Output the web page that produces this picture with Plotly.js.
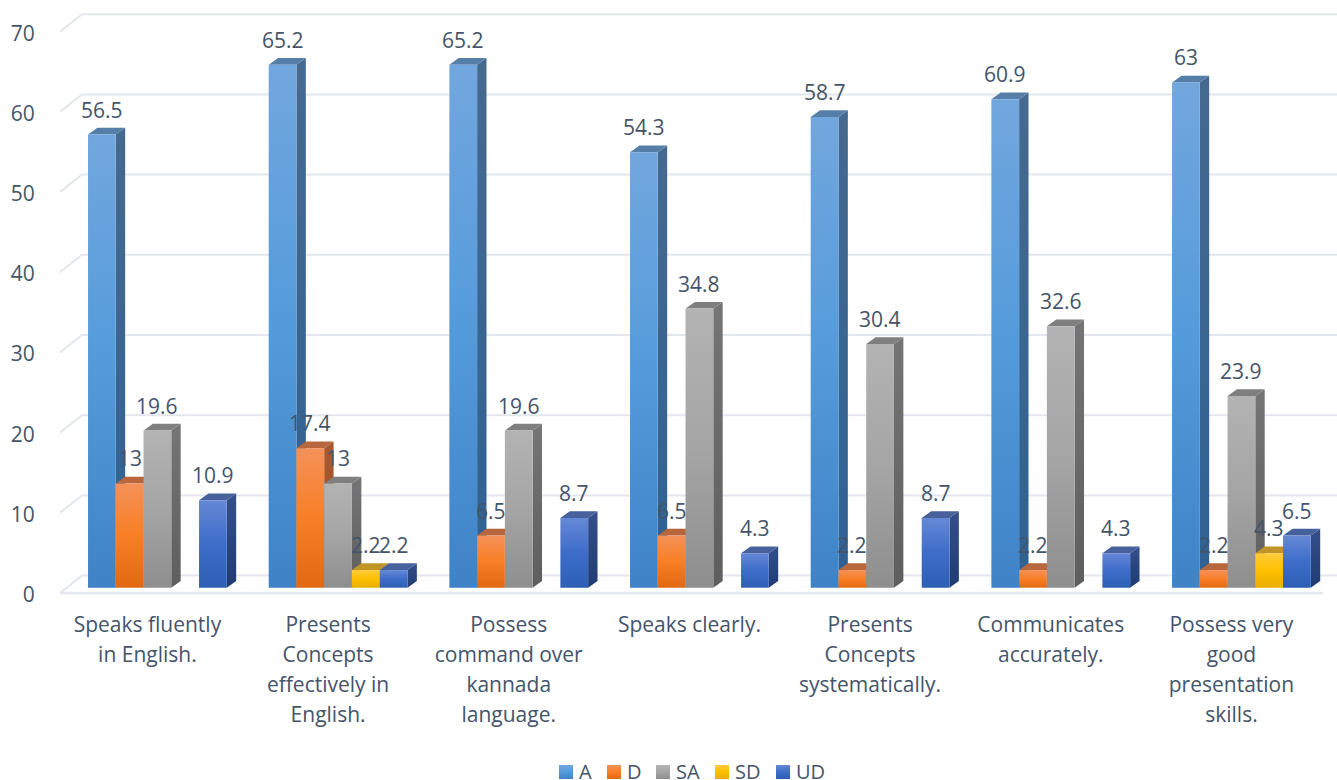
<!DOCTYPE html>
<html>
<head>
<meta charset="utf-8">
<script src="https://cdn.plot.ly/plotly-3.0.1.min.js"></script>
<style>html,body{margin:0;padding:0;background:#fff}#chart{width:1337px;height:780px}</style>
</head>
<body>
<div id="chart"></div>
<script>
const categories = ["Speaks fluently<br>in English.", "Presents<br>Concepts<br>effectively in<br>English.", "Possess<br>command over<br>kannada<br>language.", "Speaks clearly.", "Presents<br>Concepts<br>systematically.", "Communicates<br>accurately.", "Possess very<br>good<br>presentation<br>skills."];
const seriesA = [56.5, 65.2, 65.2, 54.3, 58.7, 60.9, 63];
const seriesD = [13, 17.4, 6.5, 6.5, 2.2, 2.2, 2.2];
const seriesSA = [19.6, 13, 19.6, 34.8, 30.4, 32.6, 23.9];
const seriesSD = [null, 2.2, null, null, null, null, 4.3];
const seriesUD = [10.9, 2.2, 8.7, 4.3, 8.7, 4.3, 6.5];
const yTicks = [0, 10, 20, 30, 40, 50, 60, 70];

const series = [
  {name: "A", values: seriesA, base: "#5b9bd5", front: ["#72a7de", "#549bdb", "#3f83c6"], side: ["#46698f", "#2e6294"], top: "#557ea9", legendX: 579},
  {name: "D", values: seriesD, base: "#ed7d31", front: ["#f49159", "#f87f25", "#e26912"], side: ["#a8592f", "#9c4d1c"], top: "#b8663c", legendX: 627},
  {name: "SA", values: seriesSA, base: "#a5a5a5", front: ["#b3b3b3", "#a5a5a5", "#8e8e8e"], side: ["#757575", "#5e5e5e"], top: "#7f7f7f", legendX: 676},
  {name: "SD", values: seriesSD, base: "#ffc000", front: ["#ffcb3c", "#ffc000", "#e9ae00"], side: ["#a98409", "#9a7700"], top: "#bf9528", legendX: 735},
  {name: "UD", values: seriesUD, base: "#4472c4", front: ["#6688d6", "#3d6dc9", "#2d5fb5"], side: ["#344f8c", "#1f3b73"], top: "#47619c", legendX: 796}
];

// pixel geometry of the 3D look, converted into axis units
const plotLeft = 60, plotRight = 1337, plotTop = 4, plotBottom = 600;
const groupPitch = 180.67, firstGroup = 157.4, baseLine = 587.7, perUnit = 8.02;
const xu = px => px / groupPitch;
const yu = px => px / perUnit;
const xRange = [(plotLeft - firstGroup) / groupPitch, (plotRight - firstGroup) / groupPitch];
const yRange = [(baseLine - plotBottom) / perUnit, (baseLine - plotTop) / perUnit];
const bargap = 0.232, slot = (1 - bargap) / series.length;
const depthX = xu(9.4), depthY = yu(6.7);
const fontFamily = "Open Sans", fontSize = 21, fontColor = "#44546a";

const shapes = [], annotations = [], paintJobs = [];
const gridColor = "#e3e6ec";
const xFrontL = xRange[0], xBackL = xRange[0] + xu(22), xFrontR = xRange[0] + xu(1263), xEnd = xRange[1];
const frontDy = yu(-5.3), backDy = yu(12.1);
yTicks.forEach(v => {
  const path = `M${xFrontL},${v + frontDy}L${xBackL},${v + backDy}L${xEnd},${v + backDy}`;
  shapes.push({type: "path", xref: "x", yref: "y", layer: "below", path, line: {color: gridColor, width: 2}});
});
shapes.push({type: "path", xref: "x", yref: "y", layer: "below",
  path: `M${xFrontL},${frontDy}L${xFrontR},${frontDy}`, line: {color: gridColor, width: 2.5}});

series.forEach((s, j) => {
  s.values.forEach((v, i) => {
    if (v === null) return;
    const left = i + (j - series.length / 2) * slot, right = left + slot;
    const sidePath = `M${right},0L${right + depthX},${depthY}L${right + depthX},${v + depthY}L${right},${v}Z`;
    paintJobs.push({index: shapes.length, grad: `side${j}`});
    shapes.push({type: "path", xref: "x", yref: "y", layer: "below", path: sidePath, fillcolor: s.side[0], line: {width: 0}});
    const topPath = `M${left},${v}L${right},${v}L${right + depthX},${v + depthY}L${left + depthX},${v + depthY}Z`;
    shapes.push({type: "path", xref: "x", yref: "y", layer: "below", path: topPath, fillcolor: s.top, line: {width: 0}});
    annotations.push({xref: "x", yref: "y", x: (left + right) / 2, y: v, yshift: 25, yanchor: "middle", xanchor: "center",
      text: String(v), showarrow: false, font: {family: fontFamily, size: fontSize, color: fontColor}});
  });
});

const traces = series.map(s => ({
  type: "bar", name: s.name, x: categories, y: s.values,
  marker: {color: s.base, line: {width: 0}}, hoverinfo: "skip"
}));

const layout = {
  width: 1337, height: 780,
  margin: {l: plotLeft, r: 1337 - plotRight, t: plotTop, b: 780 - plotBottom, pad: 0},
  paper_bgcolor: "#fff", plot_bgcolor: "rgba(0,0,0,0)",
  barmode: "group", bargap, bargroupgap: 0,
  font: {family: fontFamily, size: fontSize, color: fontColor},
  xaxis: {type: "category", range: xRange, showgrid: false, zeroline: false, showline: false,
    ticks: "outside", ticklen: 6, tickcolor: "rgba(0,0,0,0)", ticklabelshift: -10, tickangle: 0,
    tickfont: {family: fontFamily, size: fontSize, color: fontColor}, automargin: false},
  yaxis: {range: yRange, tickmode: "array", tickvals: yTicks, showgrid: false, zeroline: false, showline: false,
    ticks: "outside", ticklen: 20, tickcolor: "rgba(0,0,0,0)", ticklabelshift: 7,
    tickfont: {family: fontFamily, size: fontSize, color: fontColor}, automargin: false},
  showlegend: true,
  legend: {orientation: "h", x: 0.5, xanchor: "center", y: -0.2, yanchor: "top", traceorder: "normal",
    font: {family: fontFamily, size: 20, color: fontColor}, bgcolor: "rgba(0,0,0,0)"},
  shapes, annotations
};

function addGradient(defs, id, stops) {
  const NS = "http://www.w3.org/2000/svg";
  const g = document.createElementNS(NS, "linearGradient");
  g.setAttribute("id", id);
  g.setAttribute("x1", "0"); g.setAttribute("y1", "0"); g.setAttribute("x2", "0"); g.setAttribute("y2", "1");
  stops.forEach((c, k) => {
    const st = document.createElementNS(NS, "stop");
    st.setAttribute("offset", String(k / (stops.length - 1)));
    st.setAttribute("stop-color", c);
    g.appendChild(st);
  });
  defs.appendChild(g);
}

Plotly.newPlot("chart", traces, layout, {displayModeBar: false, staticPlot: true}).then(gd => {
  const defs = gd.querySelector(".main-svg defs");
  series.forEach((s, j) => {
    addGradient(defs, `front${j}`, s.front);
    addGradient(defs, `side${j}`, s.side);
  });
  // bar fronts
  gd.querySelectorAll(".barlayer .trace.bars").forEach((t, j) => {
    t.querySelectorAll(".point path").forEach(p => { p.style.fill = `url(#front${j})`; });
  });
  // side faces
  paintJobs.forEach(job => {
    const p = gd.querySelector(`.shapelayer path[data-index="${job.index}"]`);
    if (p) p.style.fill = `url(#${job.grad})`;
  });
  // x label line spacing
  gd.querySelectorAll(".xtick text").forEach(t => {
    const y0 = parseFloat(t.getAttribute("y"));
    t.querySelectorAll("tspan.line").forEach((ts, k) => {
      ts.setAttribute("dy", "0");
      ts.setAttribute("y", y0 + k * 30);
    });
  });
  // compact legend
  const legend = gd.querySelector(".legend");
  const first = /translate\(([-\d.]+),\s*([-\d.]+)\)/.exec(legend.querySelector(".traces").getAttribute("transform"));
  legend.setAttribute("transform", `translate(0,${771 - parseFloat(first[2])})`);
  const box = legend.querySelector(".scrollbox");
  if (box) box.removeAttribute("clip-path");
  legend.querySelectorAll(".traces").forEach((t, j) => {
    const txt = t.querySelector("text.legendtext");
    const tx = parseFloat(txt.getAttribute("x")) || 40;
    const mm = /translate\(([-\d.]+),\s*([-\d.]+)\)/.exec(t.getAttribute("transform"));
    t.setAttribute("transform", `translate(${series[j].legendX - tx},${mm[2]})`);
    const sw = t.querySelector(".legendpoints path");
    if (sw) {
      sw.setAttribute("transform", `translate(${tx - 13},1) scale(1.1667)`);
      sw.style.fill = `url(#front${j})`;
    }
  });
});
</script>
</body>
</html>
